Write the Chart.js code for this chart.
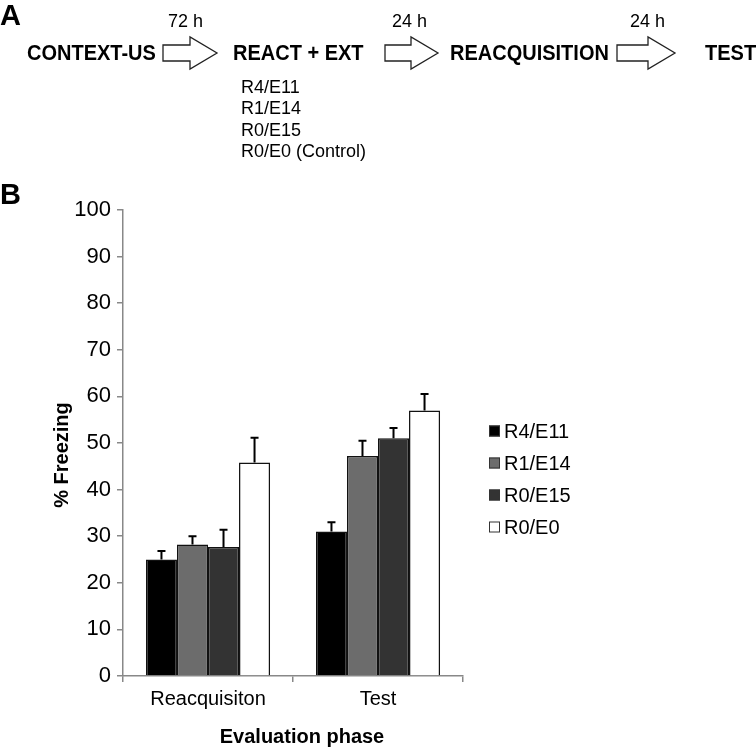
<!DOCTYPE html>
<html lang="en">
<head>
<meta charset="UTF-8" />
<title>Freezing by evaluation phase</title>
<script src="https://cdn.jsdelivr.net/npm/chart.js"></script>
<style>
  body { margin: 0; background: #fff; }
  #chart { display: block; }
</style>
</head>
<body>
<canvas id="chart" width="756" height="750"></canvas>
<script>
  // chart data
  const categories = ["Reacquisiton", "Test"];
  const groupNames = ["R4/E11", "R1/E14", "R0/E15", "R0/E0"];
  const r4e11 = [25, 31];
  const r1e14 = [28.2, 47.2];
  const r0e15 = [27.7, 51];
  const r0e0 = [45.8, 57];
  const r4e11Err = [1.8, 2.0];
  const r1e14Err = [1.8, 3.3];
  const r0e15Err = [3.7, 2.2];
  const r0e0Err = [5.3, 3.5];
  const groupColors = ["#000000", "#6c6c6c", "#333333", "#ffffff"];

  // panel A protocol
  const steps = ["CONTEXT-US", "REACT + EXT", "REACQUISITION", "TEST"];
  const delays = ["72 h", "24 h", "24 h"];
  const extGroups = ["R4/E11", "R1/E14", "R0/E15", "R0/E0 (Control)"];

  const FONT = "'Liberation Sans', Arial, sans-serif";
  const values = [r4e11, r1e14, r0e15, r0e0];
  const errors = [r4e11Err, r1e14Err, r0e15Err, r0e0Err];

  function arrow(ctx, x0, xh, x1, cy) {
    ctx.beginPath();
    ctx.moveTo(x0, cy - 8);
    ctx.lineTo(xh, cy - 8);
    ctx.lineTo(xh, cy - 16);
    ctx.lineTo(x1, cy);
    ctx.lineTo(xh, cy + 16);
    ctx.lineTo(xh, cy + 8);
    ctx.lineTo(x0, cy + 8);
    ctx.closePath();
    ctx.fillStyle = "#fff";
    ctx.fill();
    ctx.strokeStyle = "#222";
    ctx.lineWidth = 1.3;
    ctx.stroke();
  }

  // text drawn a little taller than wide, like the source figure
  function tallText(ctx, text, x, y, sy) {
    ctx.save();
    ctx.translate(x, y);
    ctx.scale(1, sy);
    ctx.fillText(text, 0, 0);
    ctx.restore();
  }

  const extras = {
    id: "extras",
    afterDatasetsDraw(chart) {
      const ctx = chart.ctx;
      const y = chart.scales.y;
      ctx.save();
      ctx.strokeStyle = "#000";
      ctx.lineWidth = 2;
      chart.data.datasets.forEach((ds, i) => {
        chart.getDatasetMeta(i).data.forEach((bar, j) => {
          const top = y.getPixelForValue(ds.data[j] + errors[i][j]);
          ctx.beginPath();
          ctx.moveTo(bar.x, bar.y);
          ctx.lineTo(bar.x, top);
          ctx.moveTo(bar.x - 4, top);
          ctx.lineTo(bar.x + 4, top);
          ctx.stroke();
        });
      });
      ctx.restore();
    },
    afterDraw(chart) {
      const ctx = chart.ctx;
      ctx.save();
      ctx.fillStyle = "#000";
      ctx.textBaseline = "alphabetic";

      // panel letters
      ctx.font = "bold 29px " + FONT;
      ctx.textAlign = "left";
      ctx.fillText("A", 0, 25);
      ctx.fillText("B", 0, 204);

      // panel A
      ctx.font = "bold 20px " + FONT;
      tallText(ctx, steps[0], 27, 60, 1.12);
      tallText(ctx, steps[1], 233, 60, 1.12);
      tallText(ctx, steps[2], 450, 60, 1.12);
      tallText(ctx, steps[3], 705, 60, 1.12);
      ctx.font = "18px " + FONT;
      ctx.fillText(delays[0], 168, 27);
      ctx.fillText(delays[1], 392, 27);
      ctx.fillText(delays[2], 630, 27);
      extGroups.forEach((t, i) => ctx.fillText(t, 241, 93 + i * 21.3));
      arrow(ctx, 163, 190, 217, 53);
      arrow(ctx, 385, 411, 438, 53);
      arrow(ctx, 617, 648, 675, 53);

      // axis titles
      ctx.fillStyle = "#000";
      ctx.font = "bold 20px " + FONT;
      ctx.textAlign = "center";
      ctx.fillText("Evaluation phase", 302, 743);
      ctx.save();
      ctx.translate(68, 455);
      ctx.rotate(-Math.PI / 2);
      ctx.fillText("% Freezing", 0, 0);
      ctx.restore();

      // legend
      ctx.textAlign = "left";
      ctx.textBaseline = "middle";
      ctx.font = "20px " + FONT;
      groupNames.forEach((name, i) => {
        const cy = 431 + i * 32;
        ctx.fillStyle = groupColors[i];
        ctx.fillRect(489, cy - 5.5, 11, 11);
        ctx.strokeStyle = "#333";
        ctx.lineWidth = 1;
        ctx.strokeRect(489.5, cy - 5, 10, 10);
        ctx.fillStyle = "#000";
        ctx.fillText(name, 504, cy + 1);
      });
      ctx.restore();
    }
  };

  new Chart(document.getElementById("chart"), {
    type: "bar",
    data: {
      labels: categories,
      datasets: groupNames.map((name, i) => ({
        label: name,
        data: values[i],
        backgroundColor: groupColors[i],
        borderColor: "#111",
        borderWidth: 1.5,
        categoryPercentage: 0.73,
        barPercentage: 1
      }))
    },
    options: {
      responsive: false,
      animation: false,
      devicePixelRatio: 1,
      layout: { padding: { left: 0, top: 210, right: 293, bottom: 0 } },
      plugins: { legend: { display: false }, tooltip: { enabled: false } },
      scales: {
        x: {
          afterFit: s => { s.height = 74; },
          grid: { drawOnChartArea: false, drawTicks: true, tickLength: 6, color: "#888", lineWidth: 1.5, offset: true },
          border: { color: "#888", width: 1.5 },
          ticks: { color: "#000", padding: 5, font: { family: FONT, size: 20 } }
        },
        y: {
          min: 0,
          max: 100,
          afterFit: s => { s.width = 123; },
          grid: { drawOnChartArea: false, drawTicks: true, tickLength: 6, color: "#888", lineWidth: 1.5 },
          border: { color: "#888", width: 1.5 },
          ticks: { stepSize: 10, color: "#000", padding: 6, font: { family: FONT, size: 22 } }
        }
      }
    },
    plugins: [extras]
  });
</script>
</body>
</html>
